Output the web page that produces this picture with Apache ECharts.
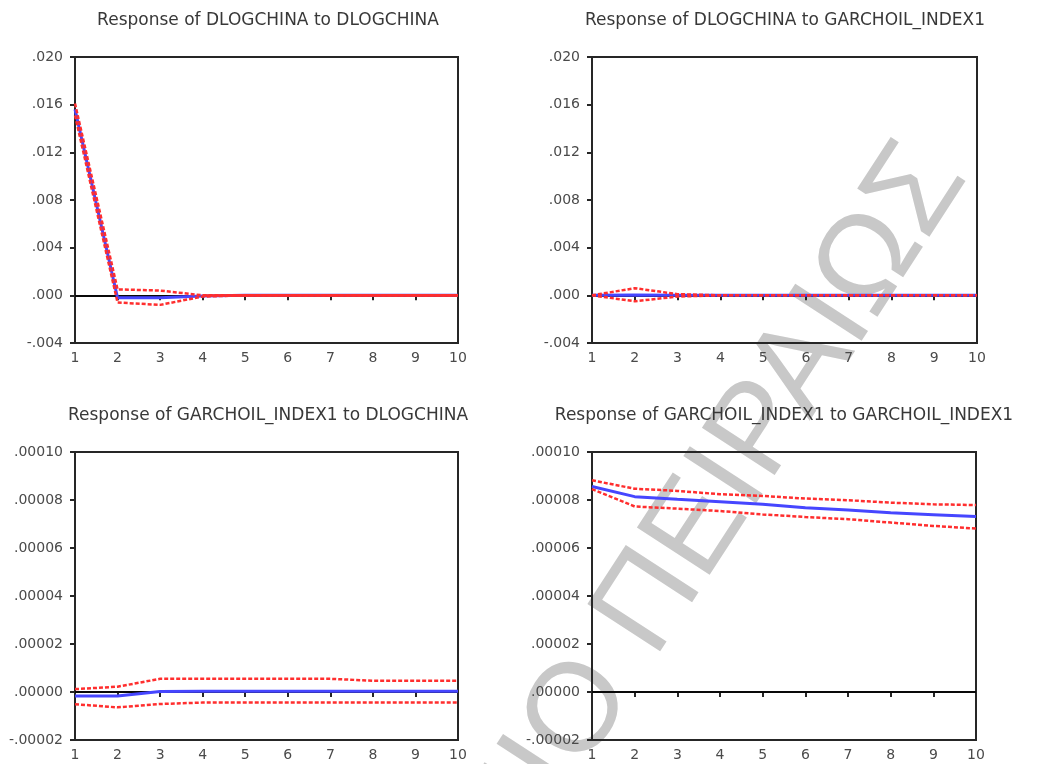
<!DOCTYPE html>
<html>
<head>
<meta charset="utf-8">
<title>Impulse responses</title>
<script src="https://cdn.jsdelivr.net/npm/echarts@6/dist/echarts.min.js"></script>
<style>
  html, body { margin: 0; padding: 0; background: #ffffff; }
  #chart { width: 1038px; height: 764px; }
</style>
</head>
<body>
<div id="chart"></div>
<script>
// Horizon (periods after the shock)
const periods = [1, 2, 3, 4, 5, 6, 7, 8, 9, 10];

// Panel titles
const panelTitles = [
  'Response of DLOGCHINA to DLOGCHINA',
  'Response of DLOGCHINA to GARCHOIL_INDEX1',
  'Response of GARCHOIL_INDEX1 to DLOGCHINA',
  'Response of GARCHOIL_INDEX1 to GARCHOIL_INDEX1'
];

// Response of DLOGCHINA to DLOGCHINA
const resp11 = [0.0156, -0.0002, -0.0002, -0.00005, 0, 0, 0, 0, 0, 0];
const upper11 = [0.0161, 0.0005, 0.0004, 0.0000, 0, 0, 0, 0, 0, 0];
const lower11 = [0.0151, -0.0006, -0.0008, -0.0001, 0, 0, 0, 0, 0, 0];

// Response of DLOGCHINA to GARCHOIL_INDEX1
const resp12 = [0, 0.00003, 0.00001, 0, 0, 0, 0, 0, 0, 0];
const upper12 = [0, 0.0006, 0.0001, 0, 0, 0, 0, 0, 0, 0];
const lower12 = [0, -0.0005, -0.0001, 0, 0, 0, 0, 0, 0, 0];

// Response of GARCHOIL_INDEX1 to DLOGCHINA
const resp21 = [-0.0000017, -0.0000017, 0.0000002, 0.0000003, 0.0000003, 0.0000003, 0.0000003, 0.0000003, 0.0000003, 0.0000003];
const upper21 = [0.0000012, 0.0000022, 0.0000055, 0.0000055, 0.0000055, 0.0000055, 0.0000055, 0.0000047, 0.0000047, 0.0000047];
const lower21 = [-0.0000051, -0.0000064, -0.0000050, -0.0000044, -0.0000044, -0.0000044, -0.0000044, -0.0000044, -0.0000044, -0.0000044];

// Response of GARCHOIL_INDEX1 to GARCHOIL_INDEX1
const resp22 = [0.0000856, 0.0000814, 0.0000803, 0.0000793, 0.0000782, 0.0000768, 0.0000758, 0.0000747, 0.0000739, 0.0000731];
const upper22 = [0.0000882, 0.0000847, 0.0000838, 0.0000824, 0.0000817, 0.0000806, 0.0000799, 0.0000789, 0.0000782, 0.0000779];
const lower22 = [0.0000845, 0.0000773, 0.0000764, 0.0000754, 0.0000740, 0.0000729, 0.0000720, 0.0000706, 0.0000692, 0.0000681];

// Vertical scales: [min, max, step, decimals]
const scaleTop = [-0.004, 0.020, 0.004, 3];
const scaleBottom = [-0.00002, 0.00010, 0.00002, 5];

// collapsedFrom: period after which both bands sit exactly on zero
const panels = [
  { resp: resp11, upper: upper11, lower: lower11, scale: scaleTop, collapsedFrom: 4 },
  { resp: resp12, upper: upper12, lower: lower12, scale: scaleTop },
  { resp: resp21, upper: upper21, lower: lower21, scale: scaleBottom },
  { resp: resp22, upper: upper22, lower: lower22, scale: scaleBottom }
];

const grids = [
  { left: 75, top: 57, width: 383, height: 286 },
  { left: 592, top: 57, width: 385, height: 286 },
  { left: 75, top: 452, width: 383, height: 288 },
  { left: 592, top: 452, width: 384, height: 288 }
];
const titlePos = [[268, 21], [785, 21], [268, 416], [784, 416]];

const FRAME = '#262626';
const LABEL = '#4a4a4a';
const BLUE = '#4646ff';
const RED = '#ff2e2e';
const TICK_FONT = 'DejaVu Sans';
const BAND_DASH = [4, 2];

function decimalLabel(dec) {
  return function (v) {
    return v.toFixed(dec).replace(/^(-?)0\./, '$1.');
  };
}

function pairs(values) {
  return periods.map((p, i) => [p, values[i]]);
}

const xAxes = grids.map((g, i) => ({
  type: 'value', gridIndex: i, min: 1, max: 10, interval: 1,
  axisLine: { lineStyle: { color: FRAME, width: 2 } },
  axisTick: { length: 5, lineStyle: { color: FRAME, width: 2 } },
  splitLine: { show: false },
  axisLabel: { fontFamily: TICK_FONT, fontSize: 14, color: LABEL, margin: 8 }
}));

const yAxes = panels.map((p, i) => ({
  type: 'value', gridIndex: i,
  min: p.scale[0], max: p.scale[1], interval: p.scale[2],
  axisLine: { show: true, onZero: false, lineStyle: { color: FRAME, width: 2 } },
  axisTick: { show: true, length: 5, lineStyle: { color: FRAME, width: 2 } },
  splitLine: { show: false },
  axisLabel: { fontFamily: TICK_FONT, fontSize: 14, color: LABEL, margin: 12,
    formatter: decimalLabel(p.scale[3]) }
}));

const series = [];
panels.forEach((p, i) => {
  // impulse response, with the zero reference line underneath
  series.push({
    type: 'line', xAxisIndex: i, yAxisIndex: i, z: 2,
    data: pairs(p.resp), symbol: 'none', silent: true,
    lineStyle: { color: BLUE, width: 3 },
    markLine: {
      z: 1, silent: true, symbol: 'none', label: { show: false },
      lineStyle: { color: '#000000', width: 1.5, type: 'solid' },
      data: [{ yAxis: 0 }]
    }
  });
  const upper = {
    type: 'line', xAxisIndex: i, yAxisIndex: i, z: 3,
    data: pairs(p.upper), symbol: 'none', silent: true,
    lineStyle: { color: RED, width: 2.5, type: BAND_DASH }
  };
  if (p.collapsedFrom) {
    // where the two bands coincide on zero they read as one solid red line
    upper.markLine = {
      z: 4, silent: true, symbol: 'none', label: { show: false },
      lineStyle: { color: RED, width: 2.5, type: 'solid' },
      data: [[{ coord: [p.collapsedFrom, 0] }, { coord: [periods[periods.length - 1], 0] }]]
    };
  }
  series.push(upper);
  series.push({
    type: 'line', xAxisIndex: i, yAxisIndex: i, z: 3,
    data: pairs(p.lower), symbol: 'none', silent: true,
    lineStyle: { color: RED, width: 2.5, type: BAND_DASH }
  });
});

const graphics = panelTitles.map((t, i) => ({
  type: 'text', x: titlePos[i][0], y: titlePos[i][1], silent: true, z: 10,
  style: {
    text: t, fill: '#383838', align: 'center', verticalAlign: 'middle',
    font: '17px "DejaVu Sans"'
  }
}));

// Diagonal university stamp behind the plots
graphics.push({
  type: 'text', x: 939, y: 158, rotation: 57 * Math.PI / 180,
  silent: true, z: -10,
  style: {
    text: 'ΠΑΝΕΠΙΣΤΗΜΙΟ ΠΕΙΡΑΙΩΣ', fill: '#c8c8c8',
    align: 'right', verticalAlign: 'middle',
    font: '126px "Liberation Sans"'
  }
});

const chart = echarts.init(document.getElementById('chart'), null, { renderer: 'canvas' });
chart.setOption({
  animation: false,
  backgroundColor: '#ffffff',
  grid: grids.map(g => Object.assign({ show: true, borderColor: FRAME, borderWidth: 2, backgroundColor: 'transparent' }, g)),
  xAxis: xAxes,
  yAxis: yAxes,
  series: series,
  graphic: graphics
});
</script>
</body>
</html>
